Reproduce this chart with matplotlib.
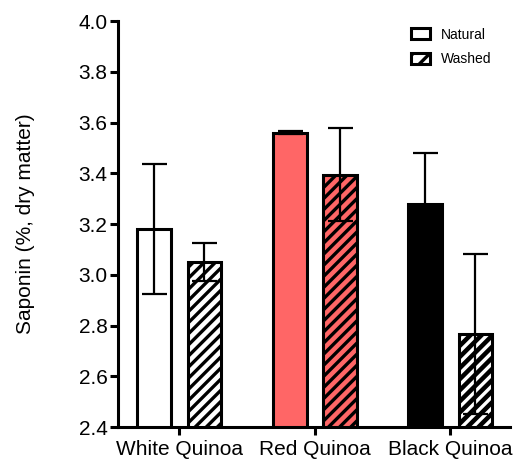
import numpy as np
import matplotlib
matplotlib.use('Agg')
import matplotlib.pyplot as plt
from matplotlib.patches import Patch

plt.rcParams['font.family'] = ['Liberation Sans', 'DejaVu Sans']
plt.rcParams['hatch.linewidth'] = 2.4

categories = ['White Quinoa', 'Red Quinoa', 'Black Quinoa']
natural = [3.18, 3.56, 3.28]
natural_err = [0.255, 0.005, 0.20]
washed = [3.05, 3.395, 2.767]
washed_err = [0.075, 0.183, 0.316]
colors = ['white', '#ff6666', 'black']
hatch_colors = ['black', 'black', 'white']
yticks = [2.4, 2.6, 2.8, 3.0, 3.2, 3.4, 3.6, 3.8, 4.0]

fig = plt.figure(figsize=(5.13, 4.59), dpi=100)
ax = fig.add_axes([0.230, 0.0697, 0.764, 0.8843])

x = np.arange(len(categories))
w = 0.25
off = 0.186
lw = 2.2

# natural bars
ax.bar(x - off, natural, w, bottom=0, color=colors, edgecolor='black', linewidth=lw, zorder=2)
# washed bars: hatch drawn with its own colour, then an outline on top
for i in range(len(categories)):
    ax.bar(x[i] + off, washed[i], w, color=colors[i], edgecolor=hatch_colors[i],
           linewidth=0, hatch='///', zorder=2)
    ax.bar(x[i] + off, washed[i], w, fill=False, edgecolor='black', linewidth=lw, zorder=3)

ax.errorbar(x - off, natural, yerr=natural_err, fmt='none', ecolor='black',
            elinewidth=1.6, capsize=9, capthick=1.6, zorder=4)
ax.errorbar(x + off, washed, yerr=washed_err, fmt='none', ecolor='black',
            elinewidth=1.6, capsize=9, capthick=1.6, zorder=4)

ax.set_ylim(2.4, 4.0)
ax.set_xlim(-0.452, 2.44)
ax.set_yticks(yticks)
ax.set_yticklabels(['%.1f' % t for t in yticks])
ax.set_xticks(x)
ax.set_xticklabels(categories)
ax.tick_params(axis='y', length=6, width=lw, labelsize=15, pad=1.5)
ax.tick_params(axis='x', length=6, width=lw, labelsize=15, pad=3)

for s in ['top', 'right']:
    ax.spines[s].set_visible(False)
for s in ['left', 'bottom']:
    ax.spines[s].set_linewidth(lw)

ax.set_ylabel('Saponin (%, dry matter)', fontsize=15)
ax.yaxis.set_label_coords(-0.212, 0.5)

handles = [Patch(facecolor='white', edgecolor='black', linewidth=lw, label='Natural'),
           Patch(facecolor='white', edgecolor='black', linewidth=lw, hatch='//', label='Washed')]
ax.legend(handles=handles, loc='upper left', bbox_to_anchor=(0.747, 0.984), frameon=False,
          borderpad=0, borderaxespad=0, fontsize=10, handlelength=1.4, handleheight=0.8,
          labelspacing=0.75, handletextpad=0.75)

fig.savefig('out.png', dpi=100)
